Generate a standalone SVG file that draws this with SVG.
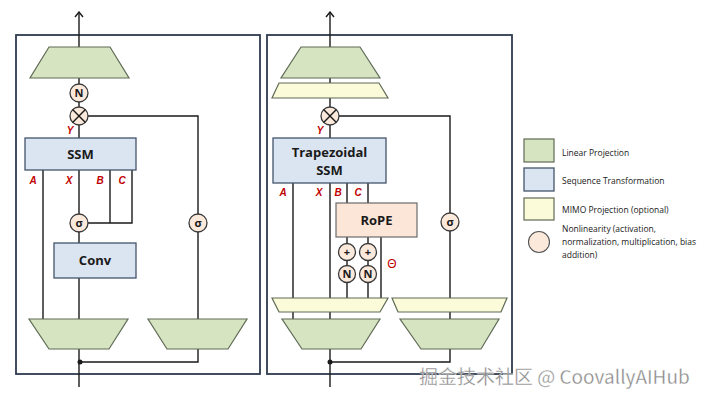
<svg xmlns="http://www.w3.org/2000/svg" width="707" height="401" viewBox="0 0 707 401">
<style>
.panel{fill:none;stroke:#2e3b4e;stroke-width:1.8}
.ln{fill:none;stroke:#1a1a1a;stroke-width:1.4}
.green{fill:#d6e4c2;stroke:#5f6b55;stroke-width:1.2}
.yellow{fill:#fbfbd9;stroke:#5f6b55;stroke-width:1.2}
.blue{fill:#dbe5f1;stroke:#44546a;stroke-width:1.3}
.peach{fill:#fbe6d8;stroke:#6b6b6b;stroke-width:1.2}
.circ{fill:#fbe9dc;stroke:#3a3a3a;stroke-width:1.3}
.lbl{font-family:"Liberation Sans",Arial,sans-serif;font-weight:bold;font-style:italic;font-size:10px;fill:#c00000;text-anchor:middle}
.box{font-family:"Open Sans","Liberation Sans",sans-serif;font-weight:bold;font-size:13px;fill:#1a1a1a;text-anchor:middle}
.ct{font-family:"Open Sans","Liberation Sans",sans-serif;font-weight:bold;font-size:11px;fill:#1a1a1a;text-anchor:middle}
.leg{font-family:"Open Sans","Liberation Sans",sans-serif;font-size:8.5px;fill:#1a1a1a}
</style>
<defs>
<marker id="arr" viewBox="0 0 10 10" refX="9" refY="5" markerWidth="10" markerHeight="10" markerUnits="userSpaceOnUse" orient="auto">
<path d="M4 1 L9 5 L4 9" fill="none" stroke="#1a1a1a" stroke-width="1.4"/>
</marker>
</defs>
<rect width="707" height="401" fill="#ffffff"/>

<rect class="panel" x="16" y="35" width="244" height="339"/>
<rect class="panel" x="267" y="35" width="245" height="339"/>

<g id="connectors">
<!-- left panel -->
<line class="ln" x1="79" y1="47" x2="79" y2="12" marker-end="url(#arr)"/>
<line class="ln" x1="79" y1="78" x2="79" y2="138"/>
<polyline class="ln" points="88,116 198,116 198,319"/>
<line class="ln" x1="43" y1="170" x2="43" y2="319"/>
<line class="ln" x1="79" y1="170" x2="79" y2="319"/>
<polyline class="ln" points="110,170 110,223"/>
<polyline class="ln" points="132,170 132,223 88,223"/>
<line class="ln" x1="79" y1="349" x2="79" y2="387"/>
<polyline class="ln" points="80,362 198,362 198,349"/>
<circle cx="80" cy="362" r="2.5" fill="#1a1a1a"/>
<!-- right panel -->
<line class="ln" x1="330" y1="47" x2="330" y2="12" marker-end="url(#arr)"/>
<line class="ln" x1="330" y1="78" x2="330" y2="138"/>
<polyline class="ln" points="339,116 450,116 450,319"/>
<line class="ln" x1="293" y1="183" x2="293" y2="319"/>
<line class="ln" x1="330" y1="183" x2="330" y2="319"/>
<line class="ln" x1="347" y1="183" x2="347" y2="203"/>
<line class="ln" x1="368" y1="183" x2="368" y2="203"/>
<line class="ln" x1="347" y1="237" x2="347" y2="298"/>
<line class="ln" x1="368" y1="237" x2="368" y2="298"/>
<line class="ln" x1="381" y1="237" x2="381" y2="298"/>
<line class="ln" x1="330" y1="349" x2="330" y2="387"/>
<polyline class="ln" points="330,362 450,362 450,349"/>
<circle cx="330" cy="362" r="2.5" fill="#1a1a1a"/>
</g>

<!-- left panel nodes -->
<g id="L_out_proj"><polygon class="green" points="49,47 110,47 129,78 30,78"/></g>
<g id="L_norm"><circle class="circ" cx="79" cy="93" r="9"/><text class="ct" x="79" y="97">N</text></g>
<g id="L_mul"><circle class="circ" cx="79" cy="116" r="9"/><path class="ln" d="M72.6,109.6 L85.4,122.4 M85.4,109.6 L72.6,122.4"/></g>
<text class="lbl" x="70" y="134">Y</text>
<g id="L_ssm"><rect class="blue" x="25" y="138" width="111" height="32"/><text class="box" x="80.5" y="159">SSM</text></g>
<text class="lbl" x="33" y="184">A</text>
<text class="lbl" x="69" y="184">X</text>
<text class="lbl" x="100" y="184">B</text>
<text class="lbl" x="122" y="184">C</text>
<g id="L_sig1"><circle class="circ" cx="79" cy="223" r="9"/><text class="ct" x="79" y="227">σ</text></g>
<g id="L_conv"><rect class="blue" x="54" y="243" width="82" height="35"/><text class="box" x="95" y="265">Conv</text></g>
<g id="L_sig2"><circle class="circ" cx="198" cy="223" r="9"/><text class="ct" x="198" y="227">σ</text></g>
<g id="L_in_proj1"><polygon class="green" points="29,319 128,319 109,349 49,349"/></g>
<g id="L_in_proj2"><polygon class="green" points="148,319 247,319 228,349 167,349"/></g>

<!-- right panel nodes -->
<g id="R_out_proj"><polygon class="green" points="301,47 360,47 380,78 281,78"/></g>
<g id="R_mimo_out"><polygon class="yellow" points="279,83 379,83 388,98 272,98"/></g>
<g id="R_mul"><circle class="circ" cx="330" cy="116" r="9"/><path class="ln" d="M323.6,109.6 L336.4,122.4 M336.4,109.6 L323.6,122.4"/></g>
<text class="lbl" x="320" y="134">Y</text>
<g id="R_ssm"><rect class="blue" x="273" y="138" width="113" height="45"/><text class="box" x="329.5" y="157">Trapezoidal</text><text class="box" x="329.5" y="175">SSM</text></g>
<text class="lbl" x="283" y="196">A</text>
<text class="lbl" x="319" y="196">X</text>
<text class="lbl" x="338" y="196">B</text>
<text class="lbl" x="358" y="196">C</text>
<g id="R_rope"><rect class="peach" x="336" y="203" width="81" height="34"/><text class="box" x="376.5" y="225">RoPE</text></g>
<g id="R_bias1"><circle class="circ" cx="347" cy="252" r="8.5"/><text class="ct" x="347" y="256">+</text></g>
<g id="R_bias2"><circle class="circ" cx="368" cy="252" r="8.5"/><text class="ct" x="368" y="256">+</text></g>
<g id="R_norm1"><circle class="circ" cx="347" cy="274" r="8.5"/><text class="ct" x="347" y="278">N</text></g>
<g id="R_norm2"><circle class="circ" cx="368" cy="274" r="8.5"/><text class="ct" x="368" y="278">N</text></g>
<text x="392" y="268" font-family="Liberation Sans,Arial,sans-serif" font-size="12" fill="#c00000" text-anchor="middle">Θ</text>
<g id="R_sig"><circle class="circ" cx="450" cy="222" r="9"/><text class="ct" x="450" y="226">σ</text></g>
<g id="R_mimo_in1"><polygon class="yellow" points="272,298 388,298 380,312 279,312"/></g>
<g id="R_mimo_in2"><polygon class="yellow" points="392,298 507,298 501,312 398,312"/></g>
<g id="R_in_proj1"><polygon class="green" points="282,319 380,319 361,349 302,349"/></g>
<g id="R_in_proj2"><polygon class="green" points="400,319 499,319 481,349 421,349"/></g>

<!-- legend -->
<g id="legend">
<rect class="green" x="524" y="139" width="30" height="23"/>
<text class="leg" x="562" y="156">Linear Projection</text>
<rect class="blue" x="524" y="168" width="30" height="23"/>
<text class="leg" x="562" y="184">Sequence Transformation</text>
<rect class="yellow" x="524" y="198" width="30" height="22"/>
<text class="leg" x="562" y="213">MIMO Projection (optional)</text>
<circle cx="539" cy="242" r="10.5" fill="#fbe9dc" stroke="#555" stroke-width="1.1"/>
<text class="leg" x="562" y="232">Nonlinearity (activation,</text>
<text class="leg" x="562" y="245">normalization, multiplication, bias</text>
<text class="leg" x="562" y="258">addition)</text>
</g>

<text x="419" y="384" font-family="'Noto Sans CJK SC','Noto Sans',sans-serif" font-size="19" fill="#8a8a8a" stroke="#ffffff" stroke-width="0.3">掘金技术社区 @ CoovallyAIHub</text>
</svg>
